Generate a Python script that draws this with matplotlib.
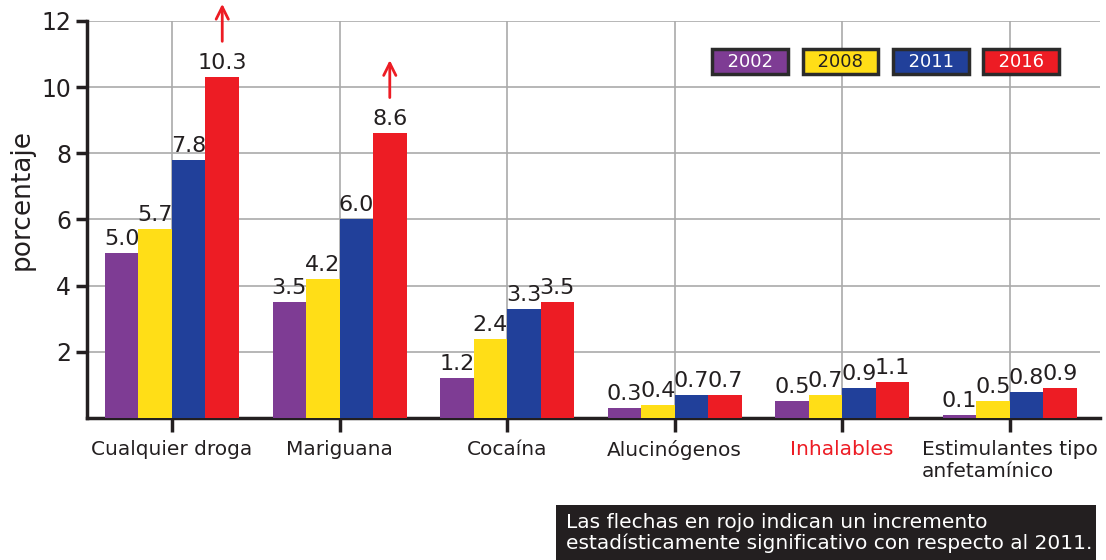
import matplotlib.pyplot as plt
from matplotlib.patches import Rectangle
import numpy as np

# Data
categorias = ["Cualquier droga", "Mariguana", "Cocaína", "Alucinógenos",
              "Inhalables", "Estimulantes tipo\nanfetamínico"]
anios = ["2002", "2008", "2011", "2016"]
v2002 = [5.0, 3.5, 1.2, 0.3, 0.5, 0.1]
v2008 = [5.7, 4.2, 2.4, 0.4, 0.7, 0.5]
v2011 = [7.8, 6.0, 3.3, 0.7, 0.9, 0.8]
v2016 = [10.3, 8.6, 3.5, 0.7, 1.1, 0.9]
flechas = [0, 1]  # categorias con incremento significativo

colores = ["#7E3C94", "#FFDE17", "#21409A", "#ED1C24"]
texto_leyenda = ["white", "#231F20", "white", "white"]
oscuro = "#231F20"

plt.rcParams["font.family"] = ["DejaVu Sans"]

fig = plt.figure(figsize=(11.06, 5.6), dpi=100)
ax = fig.add_axes([0.0787, 0.2536, 0.916, 0.709])

x = np.arange(len(categorias))
w = 0.2
series = [v2002, v2008, v2011, v2016]
for i, vals in enumerate(series):
    pos = x + (i - 1.5) * w
    ax.bar(pos, vals, width=w, color=colores[i], zorder=3)
    for px, v in zip(pos, vals):
        ax.text(px, v + 0.12, f"{v:.1f}", ha="center", va="bottom",
                fontsize=16, color=oscuro, zorder=4)

# red arrows for the 2016 bars
for k in flechas:
    px = x[k] + 1.5 * w
    top = v2016[k] + 1.0
    ax.annotate("", xy=(px, top + 1.3), xytext=(px, top),
                arrowprops=dict(arrowstyle="->", color="#ED1C24", lw=2,
                                mutation_scale=22),
                annotation_clip=False)

ax.set_xlim(-0.507, 5.54)
ax.set_ylim(0, 12)
ax.set_yticks([2, 4, 6, 8, 10, 12])
ax.set_xticks(x)
ax.set_xticklabels(categorias, fontsize=14.5, color=oscuro)
for lbl in ax.get_xticklabels():
    lbl.set_multialignment("left")
ax.get_xticklabels()[4].set_color("#ED1C24")
ax.tick_params(axis="y", labelsize=17, labelcolor=oscuro, width=2.5, length=8, color=oscuro)
ax.tick_params(axis="x", width=2.5, length=10, color=oscuro, pad=6)
ax.grid(True, color="#AAAAAA", linewidth=1.2, zorder=0)
for s in ["top", "right"]:
    ax.spines[s].set_visible(False)
for s in ["left", "bottom"]:
    ax.spines[s].set_linewidth(2.5)
    ax.spines[s].set_color(oscuro)
ax.set_ylabel("porcentaje", fontsize=19, color=oscuro)
ax.yaxis.set_label_coords(-0.052, 0.55)

# legend boxes
lx = [0.678, 0.760, 0.842, 0.923]
for i, a in enumerate(anios):
    fig.text(lx[i], 0.890, "  " + a + "  ", ha="center", va="center", fontsize=13,
             color=texto_leyenda[i],
             bbox=dict(boxstyle="square,pad=0.2", facecolor=colores[i],
                       edgecolor="#2B2B2B", linewidth=2.5))

# note box
fig.patches.append(Rectangle((0.503, 0.0), 0.488, 0.098, transform=fig.transFigure,
                             facecolor="#231F20", edgecolor="none"))
fig.text(0.512, 0.049, "Las flechas en rojo indican un incremento\n"
         "estadísticamente significativo con respecto al 2011.",
         ha="left", va="center", fontsize=14.5, color="white", linespacing=1.1)

fig.savefig("out.png", dpi=100)
